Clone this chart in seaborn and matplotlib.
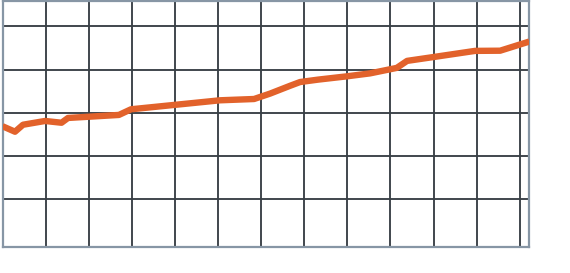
import matplotlib
matplotlib.use("Agg")
import matplotlib.pyplot as plt
import seaborn as sns
import pandas as pd

# data (x in grid units, y in grid units)
x_vals = [0.0, 0.29, 0.476, 0.986, 1.369, 1.520, 2.70, 2.981, 5.046, 5.835,
          6.206, 6.67, 6.902, 7.320, 7.986, 8.527, 9.146, 9.385, 9.988, 10.963,
          11.543, 12.22]
y_vals = [2.688, 2.561, 2.723, 2.810, 2.769, 2.880, 2.950, 3.081, 3.289, 3.319,
          3.444, 3.625, 3.712, 3.768, 3.844, 3.913, 4.040, 4.202, 4.290, 4.434,
          4.438, 4.650]
x_ticks = list(range(0, 13))
y_ticks = [1, 2, 3, 4, 5]

df = pd.DataFrame({"x": x_vals, "y": y_vals})

sns.set_theme(style="white")
fig = plt.figure(figsize=(5.70, 2.73), dpi=100)
ax = fig.add_axes([0.0044, 0.0963, 0.9242, 0.9017])

sns.lineplot(data=df, x="x", y="y", ax=ax, color="#E2622B", linewidth=4.6,
             zorder=3, solid_capstyle="butt", solid_joinstyle="round")

ax.set_xlim(0, 12.22)
ax.set_ylim(-0.103, 5.6)
ax.set_xticks(x_ticks)
ax.set_yticks(y_ticks)
ax.set_xticklabels([])
ax.set_yticklabels([])
ax.tick_params(length=0)
ax.set_xlabel("")
ax.set_ylabel("")
ax.grid(True, color="#394046", linewidth=1.35)
ax.set_axisbelow(True)
for side, sp in ax.spines.items():
    sp.set_visible(True)
    sp.set_color("#8796A5")
    sp.set_linewidth(1.6)

fig.savefig("out.png", dpi=100)
